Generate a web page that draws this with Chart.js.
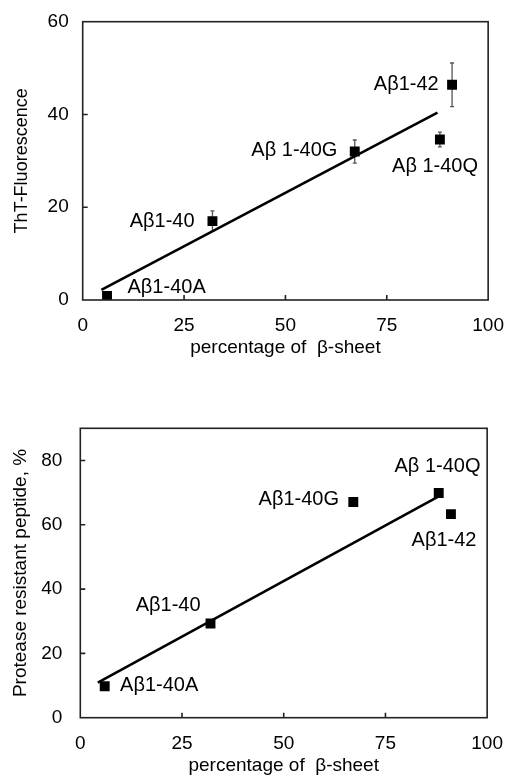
<!DOCTYPE html>
<html>
<head>
<meta charset="utf-8">
<script src="https://cdn.jsdelivr.net/npm/chart.js@4/dist/chart.umd.min.js"></script>
<style>
  body { margin:0; background:#fff; }
  .box { position:absolute; left:0; width:510px; }
</style>
</head>
<body>
<div class="box" style="top:0;height:390px"><canvas id="tht" width="510" height="390"></canvas></div>
<div class="box" style="top:390px;height:387px"><canvas id="prot" width="510" height="387"></canvas></div>
<script>
// peptides, % beta-sheet (shared x), ThT fluorescence (+ error), protease resistance
const PEPTIDES  = ['Aβ1-40A', 'Aβ1-40', 'Aβ1-40G', 'Aβ1-40Q', 'Aβ1-42'];
const SHEET     = [6.0, 32.0, 67.1, 88.1, 91.1];
const THT       = [0.9, 17.0, 32.0, 34.6, 46.4];
const THT_ERR   = [0, 2.2, 2.5, 1.6, 4.7];
const PROT      = [9.8, 29.3, 67.1, 69.9, 63.3];

// linear fit end points
const THT_FIT_X  = [4.6, 87.5];
const THT_FIT_Y  = [2.2, 40.4];
const PROT_FIT_X = [4.3, 88.2];
const PROT_FIT_Y = [10.9, 68.9];

// point labels and where they sit (data units)
const THT_LBL    = ['Aβ1-40A', 'Aβ1-40', 'Aβ 1-40G', 'Aβ 1-40Q', 'Aβ1-42'];
const THT_LBL_X  = [20.7, 19.6, 52.2, 86.9, 79.8];
const THT_LBL_Y  = [2.7, 16.9, 32.2, 28.7, 46.5];
const PROT_LBL   = ['Aβ1-40A', 'Aβ1-40', 'Aβ1-40G', 'Aβ 1-40Q', 'Aβ1-42'];
const PROT_LBL_X = [19.4, 21.6, 53.7, 87.8, 89.4];
const PROT_LBL_Y = [9.9, 35.0, 67.9, 78.2, 55.2];

const X_TICKS    = [0, 25, 50, 75, 100];
const THT_TICKS  = [0, 20, 40, 60];
const PROT_TICKS = [0, 20, 40, 60, 80];

const FF = '"Liberation Sans", Arial, sans-serif';

const framePlugin = {
  id: 'frame',
  beforeDatasetsDraw(chart) {
    const o = chart.options.plugins.frame, ctx = chart.ctx;
    const x = chart.scales.x, y = chart.scales.y;
    if (!o.err) return;
    ctx.save();
    ctx.strokeStyle = '#555'; ctx.lineWidth = 1.3;
    o.xs.forEach((v, i) => {
      const e = o.err[i]; if (!e) return;
      const px = x.getPixelForValue(v), p1 = y.getPixelForValue(o.ys[i] + e), p2 = y.getPixelForValue(o.ys[i] - e);
      ctx.beginPath();
      ctx.moveTo(px, p1); ctx.lineTo(px, p2);
      ctx.moveTo(px - 2, p1); ctx.lineTo(px + 2, p1);
      ctx.moveTo(px - 2, p2); ctx.lineTo(px + 2, p2);
      ctx.stroke();
    });
    ctx.restore();
  },
  afterDraw(chart) {
    const o = chart.options.plugins.frame, ctx = chart.ctx, a = chart.chartArea;
    const x = chart.scales.x, y = chart.scales.y;
    ctx.save();
    // labels
    ctx.fillStyle = '#000'; ctx.font = '20px ' + FF;
    ctx.textAlign = 'center'; ctx.textBaseline = 'middle';
    o.labels.forEach((t, i) => ctx.fillText(t, x.getPixelForValue(o.lx[i]), y.getPixelForValue(o.ly[i])));
    // box + inward ticks
    ctx.strokeStyle = '#222'; ctx.lineWidth = 1.6;
    ctx.strokeRect(a.left, a.top, a.right - a.left, a.bottom - a.top);
    ctx.beginPath();
    x.ticks.forEach(t => {
      if (t.value <= x.min || t.value >= x.max) return;
      const px = x.getPixelForValue(t.value);
      ctx.moveTo(px, a.bottom); ctx.lineTo(px, a.bottom - 5);
    });
    y.ticks.forEach(t => {
      if (t.value <= y.min || t.value >= y.max) return;
      const py = y.getPixelForValue(t.value);
      ctx.moveTo(a.left, py); ctx.lineTo(a.left + 5, py);
    });
    ctx.stroke();
    ctx.restore();
  }
};

function makeChart(id, c) {
  return new Chart(document.getElementById(id), {
    type: 'scatter',
    data: { datasets: [
      { data: SHEET.map((v, i) => ({x: v, y: c.ys[i]})), pointStyle: 'rect', pointRadius: 7, pointHoverRadius: 7,
        backgroundColor: '#000', borderWidth: 0, order: 1 },
      { type: 'line', data: c.fitX.map((v, i) => ({x: v, y: c.fitY[i]})), borderColor: '#000', borderWidth: 2.6,
        pointRadius: 0, fill: false, tension: 0, order: 2 }
    ]},
    options: {
      responsive: false, animation: false,
      layout: { padding: c.pad },
      plugins: { legend: {display: false}, tooltip: {enabled: false},
        frame: { xs: SHEET, ys: c.ys, err: c.err, labels: c.labels, lx: c.lx, ly: c.ly } },
      scales: {
        x: { type: 'linear', min: 0, max: 100,
          afterBuildTicks: s => { s.ticks = X_TICKS.map(v => ({value: v})); },
          afterFit: s => { s.height = c.xh; },
          grid: {display: false}, border: {display: false},
          ticks: { color: '#000', padding: c.xpad, font: {size: 19, family: FF} },
          title: { display: true, text: 'percentage of  β-sheet', color: '#000',
            font: {size: 19, family: FF}, padding: {top: 0, bottom: c.xtb} } },
        y: { min: 0, max: c.ymax,
          afterBuildTicks: s => { s.ticks = c.yticks.map(v => ({value: v})); },
          afterFit: s => { s.width = c.yw; },
          grid: {display: false}, border: {display: false},
          ticks: { color: '#000', padding: c.ypad, font: {size: 19, family: FF} },
          title: { display: true, text: c.ytitle, color: '#000',
            font: {size: c.ytsize, family: FF}, padding: {top: c.ytp, bottom: 0} } }
      }
    },
    plugins: [framePlugin]
  });
}

makeChart('tht', {
  ys: THT, err: THT_ERR, fitX: THT_FIT_X, fitY: THT_FIT_Y,
  labels: THT_LBL, lx: THT_LBL_X, ly: THT_LBL_Y,
  ymax: 60, yticks: THT_TICKS, ytitle: 'ThT-Fluorescence', ytsize: 18, ytp: 11,
  pad: {left: 0, right: 17.7, top: 21.7, bottom: 0}, xh: 90, yw: 82.7, xpad: 6, ypad: 6, xtb: 30.6
});

makeChart('prot', {
  ys: PROT, err: null, fitX: PROT_FIT_X, fitY: PROT_FIT_Y,
  labels: PROT_LBL, lx: PROT_LBL_X, ly: PROT_LBL_Y,
  ymax: 90, yticks: PROT_TICKS, ytitle: 'Protease resistant peptide, %', ytsize: 19, ytp: 9.4,
  pad: {left: 0, right: 20.7, top: 38.3, bottom: 0}, xh: 59.3, yw: 80.3, xpad: 7, ypad: 10, xtb: 0
});
</script>
</body>
</html>
